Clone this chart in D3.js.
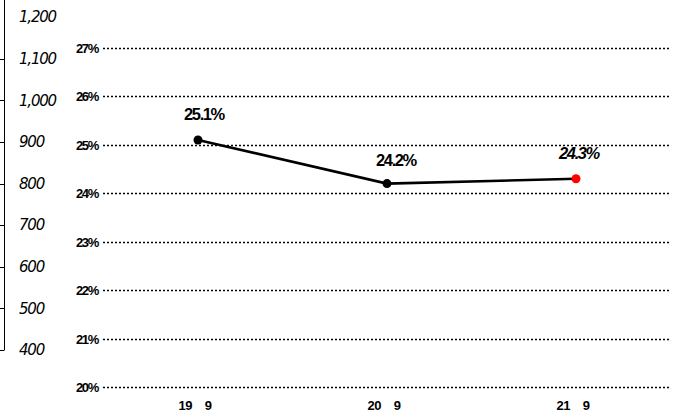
<!DOCTYPE html>
<html><head><meta charset="utf-8">
<script src="https://cdn.jsdelivr.net/npm/d3@7"></script>
<style>
html,body{margin:0;padding:0;background:#fff;}
svg{display:block;}
</style></head>
<body>
<script>
const categories = ["19\u2002\u20029", "20\u2002\u20029", "21\u2002\u20029"];
const ratioValues = [25.1, 24.2, 24.3];
const ratioLabels = ["25.1%", "24.2%", "24.3%"];
const leftTicks = [400, 500, 600, 700, 800, 900, 1000, 1100, 1200];
const rightTicks = [20, 21, 22, 23, 24, 25, 26, 27];

const W = 675, H = 416;
const svg = d3.select("body").append("svg").attr("width", W).attr("height", H);

// left axis (amount)
const yL = d3.scaleLinear().domain([400, 1200]).range([350, 17]);
svg.append("line").attr("x1", 4.5).attr("x2", 4.5).attr("y1", 0).attr("y2", yL(400))
  .attr("stroke", "#000").attr("stroke-width", 1);
leftTicks.filter(d => d < 1200).forEach(d => {
  svg.append("line").attr("x1", 0).attr("x2", 4.5).attr("y1", Math.round(yL(d)) + 0.5).attr("y2", Math.round(yL(d)) + 0.5)
    .attr("stroke", "#000").attr("stroke-width", 1);
});
svg.append("g").selectAll("text").data(leftTicks).join("text")
  .attr("x", 19).attr("y", d => yL(d)).attr("dy", "0.35em")
  .attr("font-family", "DejaVu Sans, sans-serif").attr("font-style", "italic").attr("font-weight", 300)
  .attr("font-size", 15).attr("letter-spacing", -1.2).attr("fill", "#000")
  .text(d => d3.format(",")(d));

// right scale (percentage)
const y = d3.scaleLinear().domain([20, 27]).range([387, 48]);
const x = d3.scalePoint().domain(categories).range([198, 576]);

const grid = svg.append("g");
rightTicks.forEach(t => {
  grid.append("line").attr("x1", 103).attr("x2", 670)
    .attr("y1", Math.round(y(t)) + 0.5).attr("y2", Math.round(y(t)) + 0.5)
    .attr("stroke", "#000").attr("stroke-width", 1.5).attr("stroke-dasharray", "2,2");
});
svg.append("g").selectAll("text").data(rightTicks).join("text")
  .attr("x", 98).attr("y", d => y(d)).attr("dy", "0.38em").attr("text-anchor", "end")
  .attr("font-family", "Liberation Sans, Arial, sans-serif").attr("font-weight", "bold")
  .attr("font-size", 13).attr("letter-spacing", -1.3).attr("fill", "#000")
  .text(d => d + "%");

// x labels
svg.append("g").selectAll("text").data(categories).join("text")
  .attr("x", d => x(d) - 3).attr("y", 410).attr("text-anchor", "middle")
  .attr("font-family", "Liberation Sans, Arial, sans-serif").attr("font-weight", "bold")
  .attr("font-size", 13).attr("letter-spacing", -0.3).attr("fill", "#000")
  .text(d => d);

// line
const pts = categories.map((c, i) => [x(c), y(ratioValues[i])]);
svg.append("path").attr("d", d3.line()(pts)).attr("fill", "none")
  .attr("stroke", "#000").attr("stroke-width", 2.6);
svg.append("g").selectAll("circle").data(pts).join("circle")
  .attr("cx", d => d[0]).attr("cy", d => d[1]).attr("r", 4.5)
  .attr("fill", (d, i) => i === pts.length - 1 ? "#ff0000" : "#000");

// data labels
const labOff = [[6, -20], [9, -18], [3, -20]];
svg.append("g").selectAll("text").data(ratioLabels).join("text")
  .attr("x", (d, i) => pts[i][0] + labOff[i][0]).attr("y", (d, i) => pts[i][1] + labOff[i][1])
  .attr("text-anchor", "middle")
  .attr("font-family", "Liberation Sans, Arial, sans-serif").attr("font-weight", "bold")
  .attr("font-style", (d, i) => i === 2 ? "italic" : "normal")
  .attr("font-size", 16.5).attr("letter-spacing", -1.4).attr("fill", "#000")
  .text(d => d);
</script>
</body></html>
